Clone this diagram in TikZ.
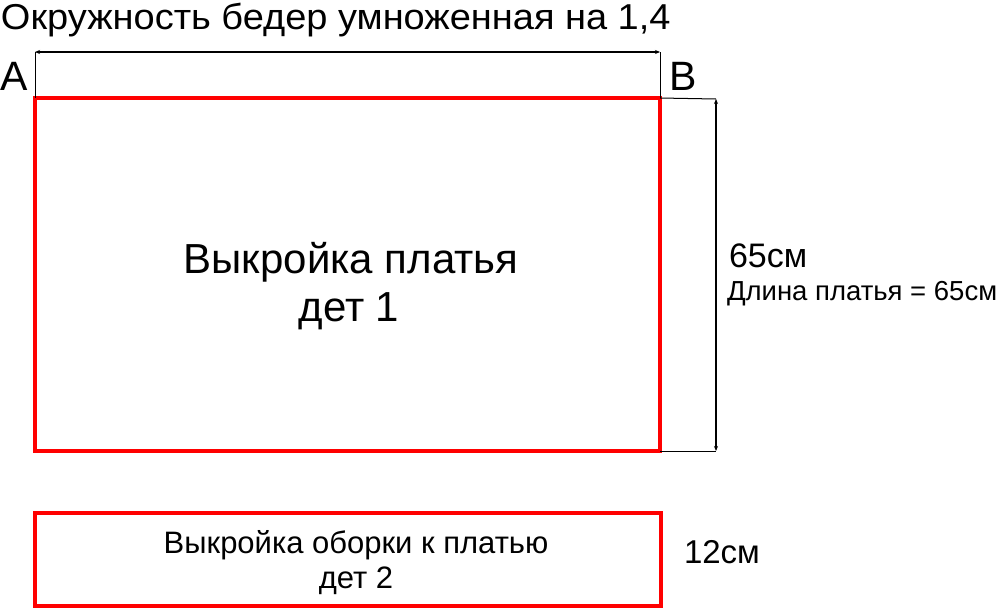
\documentclass[tikz,border=0pt]{standalone}
\usepackage{fontspec}
\setmainfont{Liberation Sans}
\newfontfamily\titlefont{Liberation Sans}[FakeStretch=1.055]
\usetikzlibrary{arrows.meta}
\begin{document}
\begin{tikzpicture}[x=1pt,y=-1pt,
  part/.style={draw=red,line width=4pt,minimum width=#1,inner sep=0,outer sep=0},
  lbl/.style={inner sep=0,outer sep=0,anchor=base west},
  ctr/.style={inner sep=0,outer sep=0,align=center},
  dim/.style={line width=1.3pt,{Stealth[length=5pt,width=4pt]}-{Stealth[length=5pt,width=4pt]}},
  ext/.style={line width=1pt}]
\useasboundingbox (0,0) rectangle (1000,611);
\fill[white] (0,0) rectangle (1000,611);
\node[part=625pt,minimum height=353pt] (r1) at (347.5,274.5) {};
\node[part=626pt,minimum height=93pt] (r2) at (348,559.5) {};
\node[lbl] (title) at (1,29.5) {\titlefont\fontsize{36}{43}\selectfont Окружность бедер умноженная на 1,4};
\node[lbl] (A) at (0,90) {\fontsize{41}{48}\selectfont A};
\node[lbl] (B) at (669,90) {\fontsize{41}{48}\selectfont B};
\node[ctr,anchor=base] (t1) at (351,273) {\fontsize{42}{50}\selectfont Выкройка платья};
\node[ctr,anchor=base] (t1b) at (349,321) {\fontsize{42}{50}\selectfont дет 1};
\node[ctr,anchor=base] (t2) at (356,553) {\fontsize{31}{37}\selectfont Выкройка оборки к платью};
\node[ctr,anchor=base] (t2b) at (356,588) {\fontsize{31}{37}\selectfont дет 2};
\node[lbl] (h65) at (729,267) {\fontsize{34}{40}\selectfont 65см};
\node[lbl] (len) at (727,300) {\fontsize{27.5}{33}\selectfont Длина платья = 65см};
\node[lbl] (h12) at (684,563) {\fontsize{33}{40}\selectfont 12см};
\coordinate (hl) at (35,52);
\coordinate (hr) at (660,52);
\coordinate (vt) at (716,99);
\coordinate (vb) at (716,451);
\draw[ext] (hl) -- (r1.north west);
\draw[ext] (hr) -- (r1.north east);
\draw[ext] (r1.north east) -- (vt);
\draw[ext] (r1.south east) -- (vb);
\draw[dim,line width=1.2pt] (hl) -- (hr);
\draw[dim,line width=2pt] (vt) -- (vb);
\end{tikzpicture}
\end{document}
